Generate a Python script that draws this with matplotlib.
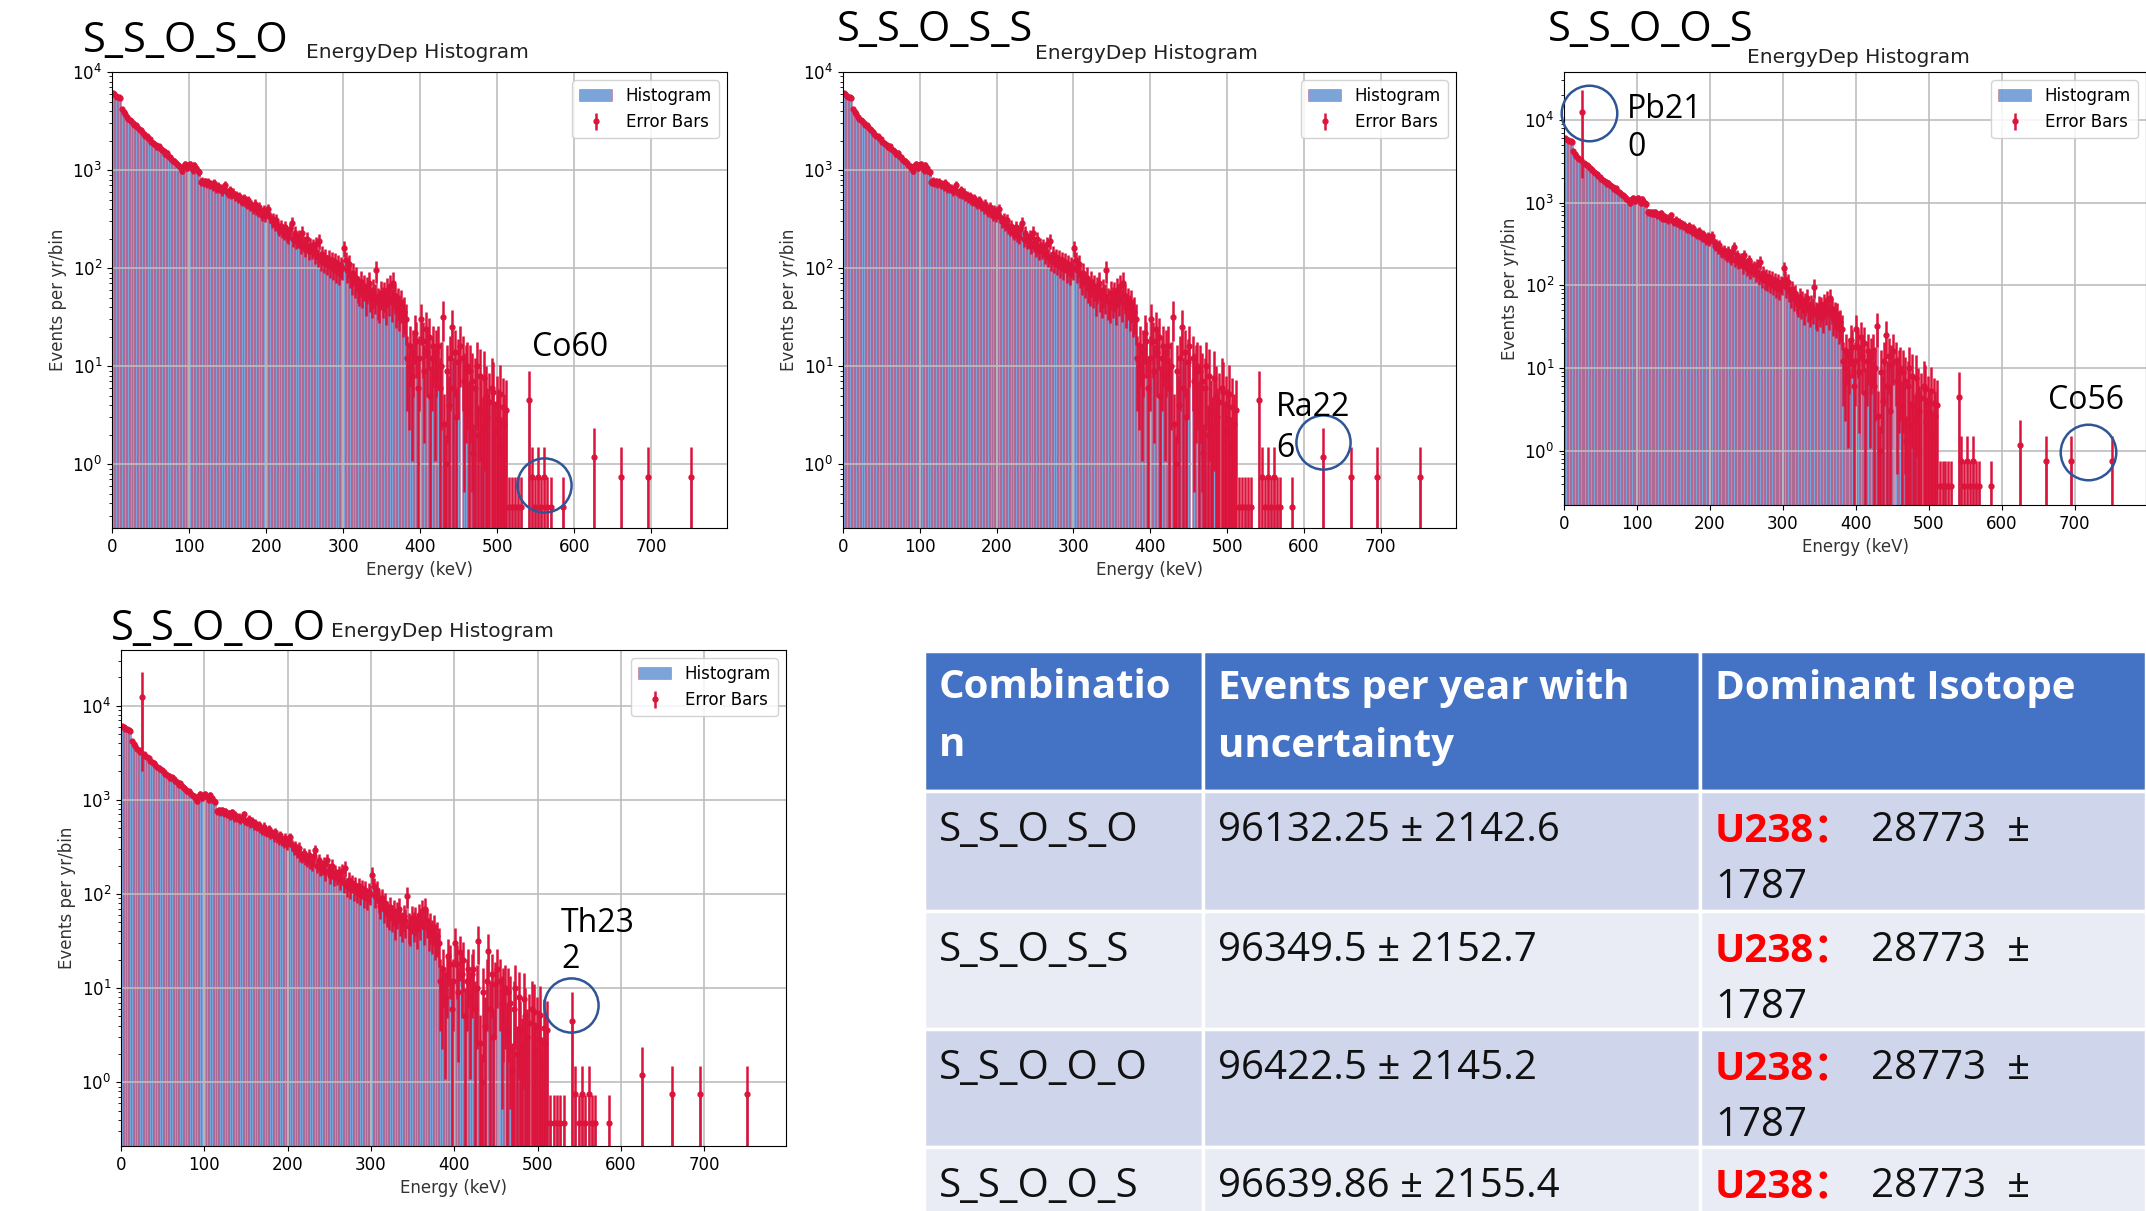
import numpy as np
import matplotlib
matplotlib.use("Agg")
import matplotlib.pyplot as plt
from matplotlib.patches import Rectangle
from matplotlib.colors import to_rgba

W, H, DPI = 2146, 1211, 100

# ---------------------------------------------------------------------------
# Energy-deposit spectrum, events per year per 2 keV bin (0 - 520 keV)
BIN_WIDTH = 2.0
spectrum = [
    6100, 5900, 5700, 5600, 5500, 5400, 4200, 3900, 3700, 3500,      # 0-20
    3350, 3250, 3150, 3050, 2900, 2850, 2750, 2600, 2550, 2450,      # 20-40
    2350, 2250, 2200, 2100, 2050, 1950, 1900, 1850, 1800, 1700,      # 40-60
    1750, 1650, 1600, 1550, 1450, 1500, 1400, 1350, 1300, 1250,      # 60-80
    1230, 1180, 1120, 1100, 1050, 980, 1100, 1150, 1050, 1120,       # 80-100
    1150, 1080, 1000, 1120, 1050, 980, 950, 760, 780, 740,           # 100-120
    770, 730, 760, 700, 720, 680, 740, 650, 690, 640,                # 120-140
    660, 610, 640, 700, 600, 580, 620, 560, 590, 540,                # 140-160
    560, 520, 540, 500, 480, 520, 470, 450, 490, 430,                # 160-180
    440, 410, 450, 400, 380, 420, 370, 350, 390, 340,                # 180-200
    380, 400, 330, 300, 320, 280, 310, 260, 250, 270,                # 200-220
    240, 230, 260, 220, 210, 250, 290, 200, 230, 190,                # 220-240
    195, 210, 170, 230, 180, 160, 200, 150, 170, 155,                # 240-260
    165, 140, 175, 130, 190, 120, 140, 115, 130, 110,                # 260-280
    125, 105, 120, 100, 115, 95, 110, 90, 105, 100,                  # 280-300
    160, 120, 95, 110, 85, 75, 90, 70, 80, 64,                       # 300-320
    60, 72, 58, 66, 50, 62, 70, 54, 48, 58,                          # 320-340
    52, 95, 46, 44, 56, 48, 54, 42, 60, 50,                          # 340-360
    66, 45, 70, 52, 40, 46, 38, 44, 34, 36,                          # 360-380
    30, 12, 10, 16, 8, 14, 22, 18, 6, 12,                            # 380-400
    30, 18, 9, 24, 14, 20, 5, 12, 16, 8,                             # 400-420
    14, 16, 6, 10, 32, 2.6, 1.0, 9, 4, 12,                           # 420-440
    25, 6, 14, 3, 11, 16, 0, 12, 7, 9,                               # 440-460
    10, 3.5, 9, 7, 1.3, 6, 10, 2, 8, 3.6,                            # 460-480
    2.4, 7.6, 5, 3, 4.3, 0, 6, 5.5, 2.2, 4,                          # 480-500
    2.9, 5.2, 1.5, 3.8, 2.6, 3.6, 0, 0.37, 0, 0.37,                  # 500-520
]
# isolated high-energy bins (bin centre in keV)
tail_energy = [523, 527, 531, 541, 545, 549, 553, 557, 561, 565, 569, 585, 625, 661, 695, 751]
tail_counts = [0.37, 0.37, 0.37, 4.5, 0.75, 0.37, 0.75, 0.37, 0.75, 0.37, 0.37, 0.37,
               1.18, 0.75, 0.75, 0.75]

# Pb210 line seen in the O_O configurations: energy, rate, uncertainty
pb210_energy = 25
pb210_rate = 12500
pb210_err = 10500

EVENT_WEIGHT = 6.0  # typical weight of one simulated event

# ---------------------------------------------------------------------------
# Summary table
table_header = ["Combinatio\nn", "Events per year with\nuncertainty", "Dominant Isotope"]
combinations = ["S_S_O_S_O", "S_S_O_S_S", "S_S_O_O_O", "S_S_O_O_S"]
rate_values = [96132.25, 96349.5, 96422.5, 96639.86]
rate_uncertainties = [2142.6, 2152.7, 2145.2, 2155.4]
dominant_isotopes = ["U238", "U238", "U238", "U238"]
isotope_rates = [28773, 28773, 28773, 28773]
isotope_uncertainties = [1787, 1787, 1787, 1787]

# ---------------------------------------------------------------------------
SLIDE_FONT = ["Open Sans", "Noto Sans CJK SC", "DejaVu Sans"]
RED_EDGE = "#DC143C"
BAR_FACE = to_rgba("#5A8ED0", 0.8)
BAR_EDGE = to_rgba(RED_EDGE, 0.5)
CIRCLE = "#2F5597"


def fx(px):
    return px / W


def fy(py):
    return 1 - py / H


def spectrum_for(with_pb210):
    e = list(np.arange(len(spectrum)) * BIN_WIDTH + BIN_WIDTH / 2) + list(tail_energy)
    v = list(spectrum) + list(tail_counts)
    e = np.array(e, dtype=float)
    v = np.array(v, dtype=float)
    n = np.maximum(v / EVENT_WEIGHT, 1.0)
    err = v / np.sqrt(n)
    if with_pb210:
        i = int(np.argmin(np.abs(e - pb210_energy)))
        v[i] = pb210_rate
        err[i] = pb210_err
    return e, v, err


panels = [
    dict(name="S_S_O_S_O", box=(112, 72, 727, 528), ylim=(0.224, 1.0e4), pb=False,
         big=(83, 52), small=(306, 58),
         notes=[(["Co60"], 532, [348], (561, 0.61), 39)]),
    dict(name="S_S_O_S_S", box=(843, 72, 1456, 528), ylim=(0.224, 1.0e4), pb=False,
         big=(837, 41), small=(1035, 59),
         notes=[(["Ra22", "6"], 1276, [407, 449], (625, 1.68), 39)]),
    dict(name="S_S_O_O_S", box=(1564, 72, 2146, 505), ylim=(0.22, 3.8e4), pb=True,
         big=(1548, 41), small=(1747, 63),
         notes=[(["Pb21", "0"], 1627, [109, 148], (34, 12000), 40),
                (["Co56"], 2048, [401], (719, 0.95), 40)]),
    dict(name="S_S_O_O_O", box=(121, 650, 786, 1146), ylim=(0.21, 3.9e4), pb=True,
         big=(111, 640), small=(331, 637),
         notes=[(["Th23", "2"], 561, [923, 960], (540, 6.6), 39)]),
]

fig = plt.figure(figsize=(W / DPI, H / DPI), dpi=DPI)
fig.patch.set_facecolor("white")

for p in panels:
    l, t, r, b = p["box"]
    ax = fig.add_axes([fx(l), fy(b), (r - l) / W, (b - t) / H])
    e, v, err = spectrum_for(p["pb"])
    ax.bar(e, v, width=BIN_WIDTH, facecolor=BAR_FACE, edgecolor=BAR_EDGE,
           linewidth=0.45, label="Histogram")
    m = v > 0
    ax.errorbar(e[m], v[m], yerr=err[m], fmt="o", ms=3.5, color=RED_EDGE,
                ecolor=RED_EDGE, elinewidth=1.8, capsize=0, label="Error Bars")
    ax.set_yscale("log")
    ax.set_xlim(0, 798)
    ax.set_ylim(*p["ylim"])
    ax.set_xticks(np.arange(0, 701, 100))
    ax.grid(True, which="major", color="#bdbdbd", linewidth=1.2)
    ax.tick_params(labelsize=12)
    ax.set_xlabel("Energy (keV)", fontsize=12, color="#333333")
    ax.set_ylabel("Events per yr/bin", fontsize=12, color="#333333")
    ax.legend(loc="upper right", fontsize=12, framealpha=0.85)

    for lines, tx, tys, (ce, cv), size in p["notes"]:
        ax.plot([ce], [cv], "o", ms=size, mfc="none", mec=CIRCLE, mew=1.8,
                clip_on=False, zorder=5)
        for line, ty in zip(lines, tys):
            fig.text(fx(tx), fy(ty), line, fontsize=23, family=SLIDE_FONT,
                     ha="left", va="center", color="black")

    bx, by = p["big"]
    fig.text(fx(bx), fy(by), p["name"], fontsize=30, family=SLIDE_FONT,
             ha="left", va="baseline", color="black")
    sx, sy = p["small"]
    fig.text(fx(sx), fy(sy), "EnergyDep Histogram", fontsize=14.5,
             ha="left", va="baseline", color="#222222")

# ---------------------------------------------------------------------------
# Table drawn as slide shapes
col_x = [924, 1203, 1700, 2146]
row_y = [651, 791, 911, 1029, 1147, 1265]
HEADER_BG = "#4472C4"
ROW_BG = ["#CFD5EA", "#E9EBF5"]
PAD = 15
LINE_GAP = 57
TABLE_FS = 29

for c in range(3):
    x0, x1 = col_x[c], col_x[c + 1]
    fig.add_artist(Rectangle((fx(x0), fy(row_y[1])), (x1 - x0) / W, (row_y[1] - row_y[0]) / H,
                             transform=fig.transFigure, facecolor=HEADER_BG,
                             edgecolor="white", linewidth=2.5))
    for k, line in enumerate(table_header[c].split("\n")):
        fig.text(fx(x0 + PAD), fy(row_y[0] + 37 + k * 58), line, fontsize=TABLE_FS,
                 family=SLIDE_FONT, weight="bold", color="white", ha="left", va="center")

for i in range(len(combinations)):
    y0, y1 = row_y[i + 1], row_y[i + 2]
    for c in range(3):
        x0, x1 = col_x[c], col_x[c + 1]
        fig.add_artist(Rectangle((fx(x0), fy(y1)), (x1 - x0) / W, (y1 - y0) / H,
                                 transform=fig.transFigure, facecolor=ROW_BG[i % 2],
                                 edgecolor="white", linewidth=2.5))
    ly1 = y0 + 40
    ly2 = ly1 + LINE_GAP
    fig.text(fx(col_x[0] + PAD), fy(ly1), combinations[i], fontsize=TABLE_FS,
             family=SLIDE_FONT, color="#111111", ha="left", va="center")
    fig.text(fx(col_x[1] + PAD), fy(ly1), f"{rate_values[i]} \u00b1 {rate_uncertainties[i]}",
             fontsize=TABLE_FS, family=SLIDE_FONT, color="#111111", ha="left", va="center")
    fig.text(fx(col_x[2] + PAD), fy(ly1), dominant_isotopes[i] + "\uff1a", fontsize=TABLE_FS,
             family=SLIDE_FONT, weight="bold", color="#FF0000", ha="left", va="center")
    fig.text(fx(1871), fy(ly1), f"{isotope_rates[i]}  \u00b1", fontsize=TABLE_FS,
             family=SLIDE_FONT, color="#111111", ha="left", va="center")
    if ly2 < H:
        fig.text(fx(col_x[2] + PAD), fy(ly2), f"{isotope_uncertainties[i]}", fontsize=TABLE_FS,
                 family=SLIDE_FONT, color="#111111", ha="left", va="center")

fig.savefig("out.png", dpi=DPI, facecolor="white")
